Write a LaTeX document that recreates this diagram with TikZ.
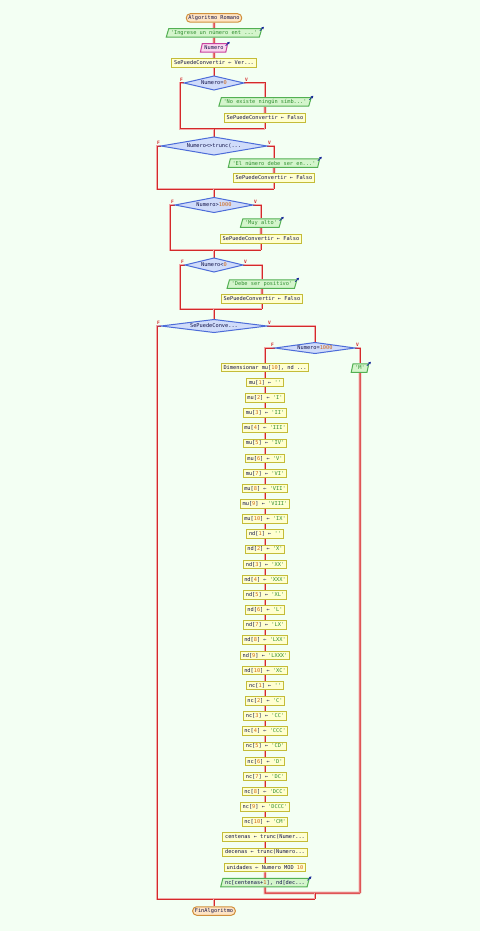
\documentclass[tikz,border=0pt]{standalone}
\usepackage{fontspec}
\setmonofont{DejaVu Sans Mono}
\usetikzlibrary{shapes.geometric,arrows.meta,calc}

\definecolor{bgc}{HTML}{F3FFF3}
\definecolor{txt}{HTML}{14144A}
\definecolor{strc}{HTML}{2E8E2E}
\definecolor{numc}{HTML}{D06818}
\definecolor{termfill}{HTML}{FFE4C4}
\definecolor{termline}{HTML}{D0903C}
\definecolor{procfill}{HTML}{FFFFD0}
\definecolor{procline}{HTML}{C4BC38}
\definecolor{outfill}{HTML}{D4F5CC}
\definecolor{outline}{HTML}{52B052}
\definecolor{infill}{HTML}{FBD5EE}
\definecolor{inline}{HTML}{C8429E}
\definecolor{diafill}{HTML}{D0DCFA}
\definecolor{dialine}{HTML}{4C6CD8}
\definecolor{lnred}{HTML}{D42A2A}
\definecolor{lnpink}{HTML}{F2A8A8}
\definecolor{icoblue}{HTML}{1A2A9A}

\pgfdeclarelayer{back}
\pgfsetlayers{back,main}

% syntax colouring of literals
\newcommand\sq[1]{\textcolor{strc}{#1}}
\newcommand\nm[1]{\textcolor{numc}{#1}}

\tikzset{
  every node/.style={font=\ttfamily\fontsize{5.3}{6}\selectfont, text=txt},
  base/.style={line width=1pt, inner xsep=2.2pt, inner ysep=0pt, minimum height=8.5pt},
  term/.style={base, rounded corners=4pt, fill=termfill, draw=termline},
  proc/.style={base, fill=procfill, draw=procline},
  outp/.style={base, trapezium, trapezium left angle=65, trapezium right angle=115,
               trapezium stretches body, fill=outfill, draw=outline},
  inp/.style={outp, fill=infill, draw=inline},
  dia/.style={line width=1pt, fill=diafill, draw=dialine},
  conn/.style={draw=lnred, line width=1pt, preaction={draw=lnpink, line width=2.6pt}},
  flag/.style={font=\ttfamily\bfseries\fontsize{4.6}{5}\selectfont, text=lnred, inner sep=0pt},
  icon/.style={draw=icoblue, line width=0.7pt, -{Triangle[length=2.4pt,width=2.6pt]}},
}

% decision: name, x, y, half width, half height, text
\newcommand\decision[6]{%
  \draw[dia] (#2-#4,#3) -- (#2,#3-#5) -- (#2+#4,#3) -- (#2,#3+#5) -- cycle;
  \node[inner sep=0pt] (#1) at (#2,#3) {#6};
  \coordinate (#1-l) at (#2-#4,#3);
  \coordinate (#1-r) at (#2+#4,#3);
  \coordinate (#1-t) at (#2,#3-#5);
  \node[flag] (#1-f) at (#2-#4-2.5,#3-3.5) {F};
  \node[flag] (#1-v) at (#2+#4+2.5,#3-3.5) {V};
}
% small arrow mark on input/output blocks
\newcommand\ioicon[1]{\draw[icon] ([shift={(-2.5,2.5)}]#1.top right corner) -- ([shift={(1.5,-1.5)}]#1.top right corner);}

\begin{document}
\begin{tikzpicture}[x=1pt, y=-1pt]
\useasboundingbox (0,0) rectangle (480,931);
\begin{pgfonlayer}{back}
  \fill[bgc] (0,0) rectangle (480,931);
\end{pgfonlayer}

% ---- header
\node[term] (t1) at (214,18) {Algoritmo Romano};
\node[outp] (o1) at (214,33) {\sq{'Ingrese un número ent ...'}};
\node[inp]  (i1) at (214,48) {Numero};
\node[proc] (p1) at (214,63) {SePuedeConvertir ← Ver...};

% ---- validations
\decision{d1}{214}{83}{30}{7}{Numero=\nm{0}}
\node[outp] (o2) at (265,102) {\sq{'No existe ningún símb...'}};
\node[proc] (p2) at (265,118) {SePuedeConvertir ← Falso};

\decision{d2}{214}{146}{53}{9}{Numero<>trunc(...}
\node[outp] (o3) at (274,163) {\sq{'El número debe ser en...'}};
\node[proc] (p3) at (274,178) {SePuedeConvertir ← Falso};

\decision{d3}{214}{205}{39}{7.5}{Numero>\nm{1000}}
\node[outp] (o4) at (261,223) {\sq{'Muy alto'}};
\node[proc] (p4) at (261,239) {SePuedeConvertir ← Falso};

\decision{d4}{214}{265}{29}{7}{Numero<\nm{0}}
\node[outp] (o5) at (262,284) {\sq{'Debe ser positivo'}};
\node[proc] (p5) at (262,299) {SePuedeConvertir ← Falso};

% ---- conversion
\decision{d5}{214}{326}{53}{6.5}{SePuedeConve...}
\decision{d6}{315}{348}{40}{5.5}{Numero=\nm{1000}}
\node[outp] (o6) at (360,368) {\sq{'M'}};

\node[proc] (q0) at (265,367.5) {Dimensionar mu[\nm{10}], nd ...};
\foreach \s [count=\i] in {{''},{'I'},{'II'},{'III'},{'IV'},{'V'},{'VI'},{'VII'},{'VIII'},{'IX'}}{
  \node[proc] (q\i) at (265,367.5+15.15*\i) {mu[\nm{\i}] ← \sq{\s}};
}
\foreach \s [count=\i] in {{''},{'X'},{'XX'},{'XXX'},{'XL'},{'L'},{'LX'},{'LXX'},{'LXXX'},{'XC'}}{
  \pgfmathtruncatemacro\k{\i+10}
  \node[proc] (q\k) at (265,367.5+15.15*\k) {nd[\nm{\i}] ← \sq{\s}};
}
\foreach \s [count=\i] in {{''},{'C'},{'CC'},{'CCC'},{'CD'},{'D'},{'DC'},{'DCC'},{'DCCC'},{'CM'}}{
  \pgfmathtruncatemacro\k{\i+20}
  \node[proc] (q\k) at (265,367.5+15.15*\k) {nc[\nm{\i}] ← \sq{\s}};
}
\node[proc] (q31) at (265,837.2) {centenas ← trunc(Numer...};
\node[proc] (q32) at (265,852.3) {decenas ← trunc(Numero...};
\node[proc] (q33) at (265,867.5) {unidades ← Numero MOD \nm{10}};
\node[outp] (q34) at (265,882.6) {nc[centenas+\nm{1}], nd[dec...};

\node[term] (t2) at (214,911) {FinAlgoritmo};

% ---- io marks
\foreach \n in {o1,i1,o2,o3,o4,o5,o6,q34}{\ioicon{\n}}

% ---- join points
\coordinate (j1l) at (180,129); \coordinate (j1) at (214,129); \coordinate (j1r) at (265,129);
\coordinate (j2l) at (157,189); \coordinate (j2) at (214,189); \coordinate (j2r) at (274,189);
\coordinate (j3l) at (170,250); \coordinate (j3) at (214,250); \coordinate (j3r) at (261,250);
\coordinate (j4l) at (180,309); \coordinate (j4) at (214,309); \coordinate (j4r) at (262,309);
\coordinate (k1) at (265,893); \coordinate (km) at (315,893); \coordinate (k2) at (360,893);
\coordinate (e1) at (157,899); \coordinate (em) at (214,899); \coordinate (ek) at (315,899);

% ---- connectors
\begin{pgfonlayer}{back}
  \draw[conn] (t1.south) -- (o1.north);
  \draw[conn] (o1.south) -- (i1.north);
  \draw[conn] (i1.south) -- (p1.north);
  \draw[conn] (p1.south) -- (d1-t);

  \draw[conn] (d1-l) -| (j1l) -- (j1r);
  \draw[conn] (d1-r) -| (o2.north);
  \draw[conn] (o2.south) -- (p2.north);
  \draw[conn] (p2.south) -- (j1r);
  \draw[conn] (j1) -- (d2-t);

  \draw[conn] (d2-l) -| (j2l) -- (j2r);
  \draw[conn] (d2-r) -| (o3.north);
  \draw[conn] (o3.south) -- (p3.north);
  \draw[conn] (p3.south) -- (j2r);
  \draw[conn] (j2) -- (d3-t);

  \draw[conn] (d3-l) -| (j3l) -- (j3r);
  \draw[conn] (d3-r) -| (o4.north);
  \draw[conn] (o4.south) -- (p4.north);
  \draw[conn] (p4.south) -- (j3r);
  \draw[conn] (j3) -- (d4-t);

  \draw[conn] (d4-l) -| (j4l) -- (j4r);
  \draw[conn] (d4-r) -| (o5.north);
  \draw[conn] (o5.south) -- (p5.north);
  \draw[conn] (p5.south) -- (j4r);
  \draw[conn] (j4) -- (d5-t);

  \draw[conn] (d5-l) -| (e1) -- (ek);
  \draw[conn] (d5-r) -| (d6-t);
  \draw[conn] (d6-l) -| (q0.north);
  \draw[conn] (d6-r) -| (o6.north);
  \draw[conn] (o6.south) -- (k2);
  \foreach \a [count=\b] in {0,...,33}{\draw[conn] (q\a.south) -- (q\b.north);}
  \draw[conn] (q34.south) -- (k1) -- (k2);
  \draw[conn] (km) -- (ek);
  \draw[conn] (em) -- (t2.north);
\end{pgfonlayer}
\end{tikzpicture}
\end{document}
